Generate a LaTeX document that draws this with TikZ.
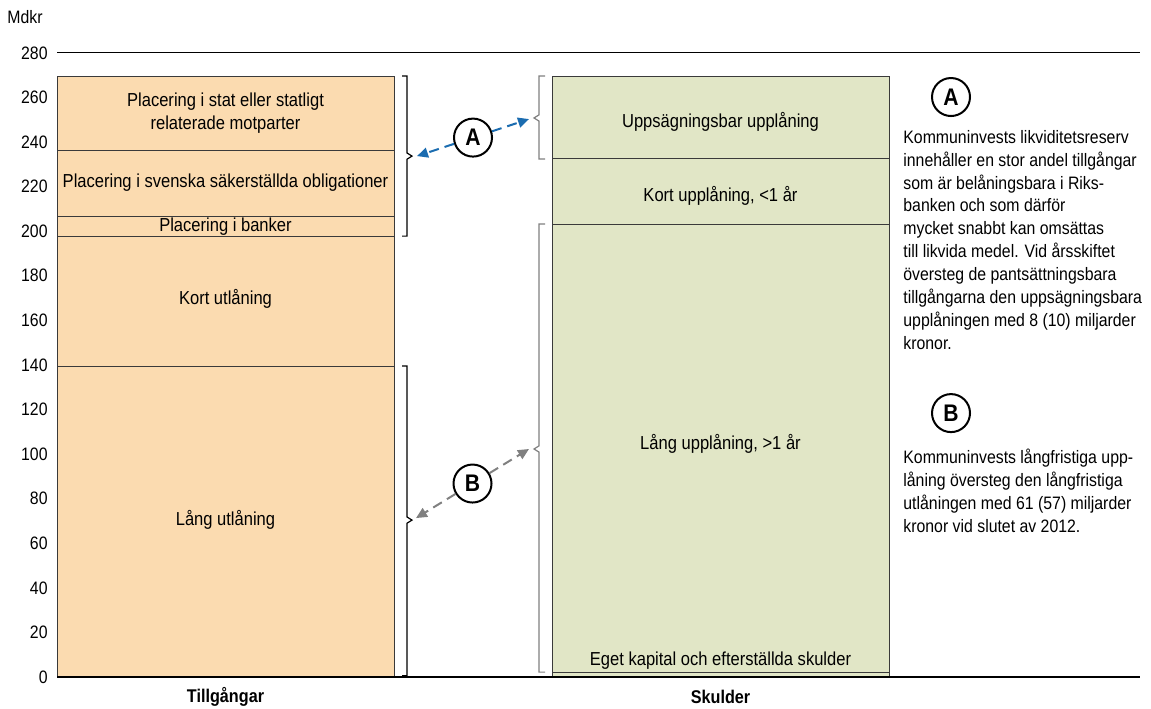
\documentclass[tikz,border=0pt]{standalone}
\usepackage{fontspec}
\setmainfont{Liberation Sans}[FakeStretch=0.88]
\usetikzlibrary{arrows.meta, positioning, calc}
\usepackage{xcolor}
\definecolor{kiorange}{HTML}{FBDBB0}
\definecolor{kigreen}{HTML}{E1E6C6}
\definecolor{kiblue}{HTML}{1B6CB0}
\definecolor{kigray}{HTML}{808080}
\definecolor{kiline}{HTML}{3A3A3A}

\begin{document}
\begin{tikzpicture}[
    x=0.5pt, y=1.1145pt,
    font=\fontsize{9}{11.45}\selectfont,
    asset/.style={
        draw=kiline,
        line width=0.5pt,
        fill=kiorange
    },
    debt/.style={
        draw=kiline,
        line width=0.5pt,
        fill=kigreen
    },
    seglabel/.style={
        align=center,
        inner sep=1pt,
        font=\fontsize{9.4}{11.45}\selectfont
    },
    bracket/.style={
        line width=0.6pt,
        draw=#1
    },
    link/.style={
        ->,
        >={Triangle[length=5.5pt, width=5pt]},
        dash pattern=on 5pt off 3pt,
        line width=1pt,
        draw=#1
    },
    marker/.style={
        circle,
        draw=black,
        line width=1pt,
        fill=white,
        minimum size=19pt,
        inner sep=0pt,
        font=\bfseries\fontsize{12}{12}\selectfont
    },
    ticklabel/.style={
        anchor=east,
        inner sep=0pt
    },
    note/.style={
        anchor=north west,
        align=left,
        inner sep=0pt
    }
]

\useasboundingbox (0,-13.91) rectangle (1151,303.73);

% Axis
\draw[line width=0.6pt] (57,280) -- (1140,280);
\foreach \v in {0,20,...,280}
    \node[ticklabel] (tick\v) at (48,\v) {\v};
\node[anchor=west, inner sep=0pt] (unit) at (7,296) {Mdkr};

% Assets bar
\draw[asset] (57,236.4) rectangle (394,269.6);
\draw[asset] (57,206.4) rectangle (394,236.4);
\draw[asset] (57,197.8) rectangle (394,206.4);
\draw[asset] (57,139.5) rectangle (394,197.8);
\draw[asset] (57,0) rectangle (394,139.5);

\node[seglabel] (stat) at (225.5,253) {Placering i stat eller statligt\\relaterade motparter};
\node[seglabel] (covered) at (225.5,221.6) {Placering i svenska säkerställda obligationer};
\node[seglabel] (banks) at (225.5,202.1) {Placering i banker};
\node[seglabel] (shortlend) at (225.5,169.6) {Kort utlåning};
\node[seglabel] (longlend) at (225.5,70.4) {Lång utlåning};

% Debt bar
\draw[debt] (552,232.4) rectangle (889,269.6);
\draw[debt] (552,203.2) rectangle (889,232.4);
\draw[debt] (552,2.2) rectangle (889,203.2);
\draw[debt] (552,0) rectangle (889,2.2);

\node[seglabel] (callable) at (720.5,249) {Uppsägningsbar upplåning};
\node[seglabel] (shortfund) at (720.5,215.8) {Kort upplåning, <1 år};
\node[seglabel] (longfund) at (720.5,104.5) {Lång upplåning, >1 år};
\node[seglabel] (equity) at (720.5,7.3) {Eget kapital och efterställda skulder};

\draw[line width=0.6pt] (57,0) -- (1140,0);

% Categories
\node[font=\bfseries\fontsize{9.2}{10}\selectfont] (assets) at (225.5,-9) {Tillgångar};
\node[font=\bfseries\fontsize{9.2}{10}\selectfont] (debts) at (720.5,-9) {Skulder};

% Brackets
\draw[bracket=black] (402,269.6) -- (407,269.6) -- (407,235.1) -- (412,233.7) -- (407,232.3) -- (407,197.8) -- (402,197.8);
\draw[bracket=black] (402,139.5) -- (407,139.5) -- (407,71.8) -- (412,70.4) -- (407,69) -- (407,0.6) -- (402,0.6);
\draw[bracket=kigray] (545,269.6) -- (539,269.6) -- (539,252.2) -- (534,250.8) -- (539,249.4) -- (539,232.4) -- (545,232.4);
\draw[bracket=kigray] (545,203.2) -- (539,203.2) -- (539,103.7) -- (534,102.3) -- (539,100.9) -- (539,2.2) -- (545,2.2);

% Links
\coordinate (aL) at (417,233.7);
\coordinate (aR) at (529,250.3);
\coordinate (bL) at (416,71.3);
\coordinate (bR) at (529,102.3);
\node[marker] (markA) at ($(aL)!0.5!(aR)$) {A};
\node[marker] (markB) at ($(bL)!0.5!(bR)$) {B};
\draw[link=kiblue] (markA) -- (aL);
\draw[link=kiblue] (markA) -- (aR);
\draw[link=kigray] (markB) -- (bL);
\draw[link=kigray] (markB) -- (bR);

% Notes
\node[marker] (keyA) at (951,260.2) {A};
\node[note] (noteA) at (903,245.5) {Kommuninvests likviditetsreserv\\
innehåller en stor andel tillgångar\\
som är belåningsbara i Riks-\\
banken och som därför\\
mycket snabbt kan omsättas\\
till likvida medel. Vid årsskiftet\\
översteg de pantsättningsbara\\
tillgångarna den uppsägningsbara\\
upplåningen med 8 (10) miljarder\\
kronor.};
\node[marker] (keyB) at (951,118.4) {B};
\node[note] (noteB) at (903,102.3) {Kommuninvests långfristiga upp-\\
låning översteg den långfristiga\\
utlåningen med 61 (57) miljarder\\
kronor vid slutet av 2012.};

\end{tikzpicture}
\end{document}
